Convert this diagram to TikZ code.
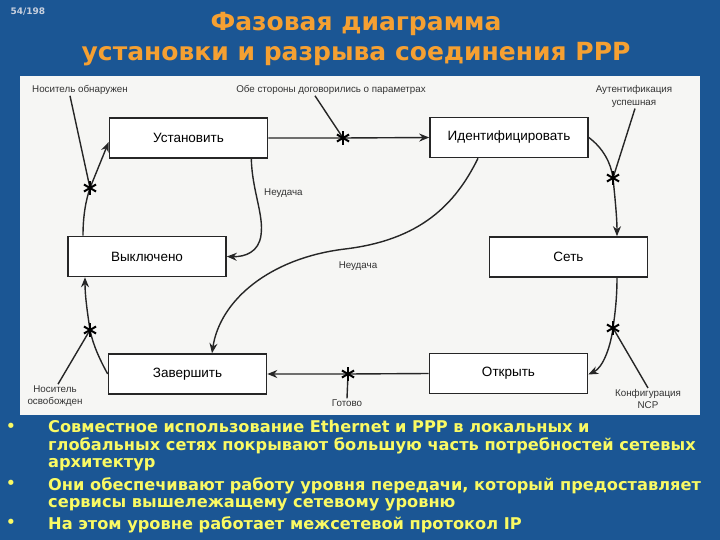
\documentclass[tikz,border=0pt]{standalone}
\usepackage{fontspec}
\setmainfont{Liberation Sans}
\newfontfamily\slidefont{DejaVu Sans}
\usetikzlibrary{arrows.meta}

\definecolor{slideblue}{RGB}{27,86,148}
\definecolor{titleorange}{RGB}{245,160,50}
\definecolor{bulletyellow}{RGB}{250,250,100}
\definecolor{panelwhite}{RGB}{246,246,244}
\definecolor{numgray}{RGB}{200,208,222}

\begin{document}
\begin{tikzpicture}[x=1pt,y=-1pt,
  state/.style={draw=black!85,line width=1.6pt,fill=white,minimum width=158pt,minimum height=40pt,font=\fontsize{13.5}{15}\selectfont},
  lbl/.style={font=\fontsize{9.8}{12.5}\selectfont,text=black!80,inner sep=1pt,align=center},
  link/.style={line width=1.4pt,draw=black!85},
  arr/.style={link,-{Stealth[length=10pt,width=8pt]}},
  bul/.style={anchor=north west,align=left,inner sep=0pt,text=bulletyellow,font=\slidefont\bfseries\fontsize{16.2}{17.5}\selectfont},
  pstar/.pic={\foreach \a in {90,30,150} \draw[line width=2pt] (\a:7) -- (\a+180:7);}
]
\useasboundingbox (0,0) rectangle (720,540);
\fill[slideblue] (0,0) rectangle (720,540);
\fill[panelwhite] (20,76) rectangle (700,415);

\node[font=\slidefont\bfseries\fontsize{9}{10}\selectfont,text=numgray,anchor=west] (pageno) at (7,12) {54/198};
\node[font=\slidefont\bfseries\fontsize{25}{30}\selectfont,text=titleorange,align=center] (title) at (356,39)
  {Фазовая диаграмма\\установки и разрыва соединения PPP};

% states
\node[state] (ust) at (188.5,138) {Установить};
\node[state] (ident) at (509,137.5) {Идентифицировать};
\node[state] (off) at (147,256.5) {Выключено};
\node[state] (net) at (568.5,257) {Сеть};
\node[state] (term) at (187.5,374) {Завершить};
\node[state] (open) at (508.5,373.5) {Открыть};

% events
\node[lbl] (carrier) at (80,90) {Носитель обнаружен};
\node[lbl] (agree) at (331,90) {Обе стороны договорились о параметрах};
\node[lbl] (auth) at (634,96.5) {Аутентификация\\успешная};
\node[lbl,anchor=west] (fail1) at (263,193) {Неудача};
\node[lbl] (fail2) at (358,266) {Неудача};
\node[lbl] (released) at (55,396) {Носитель\\освобожден};
\node[lbl] (done) at (347,403) {Готово};
\node[lbl] (ncp) at (648,399) {Конфигурация\\NCP};

\coordinate (s1) at (90,188);
\coordinate (s2) at (343,138);
\coordinate (s3) at (613,178);
\coordinate (s4) at (613,328);
\coordinate (s5) at (348,374);
\coordinate (s6) at (90,330);

\draw[arr] ([xshift=-64pt]off.north) .. controls (83,215) and (86,200) .. (s1) -- ([yshift=-4pt]ust.west);
\draw[link] ([xshift=-10pt]carrier.south) -- (s1);
\draw[arr] (ust.east) -- (s2) -- (ident.west);
\draw[link] ([xshift=-16pt]agree.south) -- (s2);
\draw[arr] (ident.east) .. controls (603,148) and (611,163) .. (s3) .. controls (615,198) and (617,218) .. ([xshift=48.5pt]net.north);
\draw[link] ([xshift=1pt]auth.south) -- (s3);
\draw[arr] ([xshift=48.5pt]net.south) .. controls (617,298) and (615,314) .. (s4) .. controls (610,350) and (602,368) .. ([yshift=-1pt]open.east);
\draw[link] (s4) -- (ncp.north);
\draw[arr] (open.west) -- (s5) -- (term.east);
\draw[link] (s5) -- (done.north);
\draw[arr] (term.west) .. controls (100,360) and (93,345) .. (s6) .. controls (87,310) and (85,295) .. ([xshift=-62pt]off.south);
\draw[link] (s6) -- ([xshift=3pt]released.north);
\draw[arr] ([xshift=-17pt]ust.south east) .. controls (252,190) and (264,215) .. (261,235) .. controls (259,252) and (245,257) .. (off.east);
\draw[arr] ([xshift=-31pt]ident.south) .. controls (455,205) and (420,240) .. (345,249) .. controls (270,258) and (220,300) .. ([xshift=24.5pt]term.north);
\foreach \s in {s1,s2,s3,s4,s5,s6} \pic at (\s) {pstar};

% bullets
\node[bul] (b1) at (48,420) {Совместное использование Ethernet и PPP в локальных и\\глобальных сетях покрывают большую часть потребностей сетевых\\архитектур};
\node[bul] (b2) at (48,477) {Они обеспечивают работу уровня передачи, который предоставляет\\сервисы вышележащему сетевому уровню};
\node[bul] (b3) at (48,516) {На этом уровне работает межсетевой протокол IP};
\foreach \y/\n in {428/d1,485/d2,524/d3}
  \node[text=bulletyellow,font=\slidefont\fontsize{18}{18}\selectfont] (\n) at (11,\y) {•};
\end{tikzpicture}
\end{document}
